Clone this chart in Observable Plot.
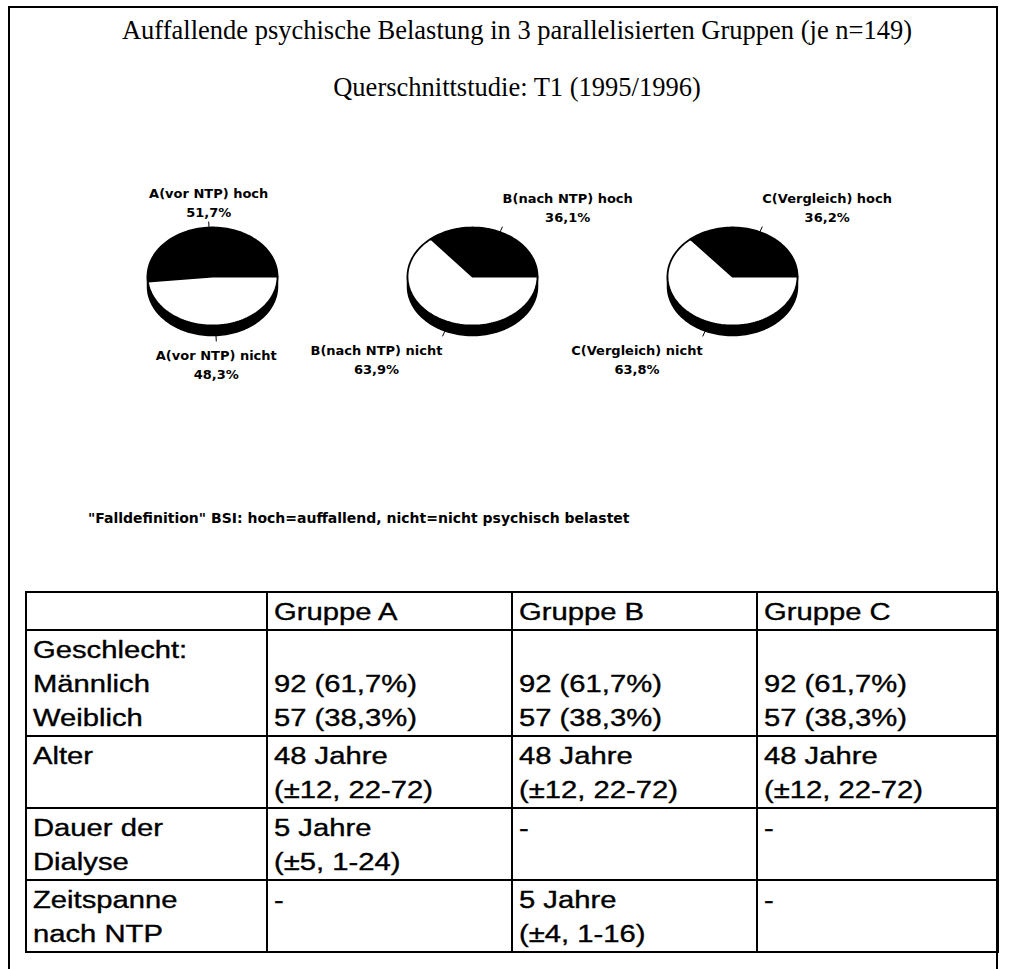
<!DOCTYPE html>
<html>
<head>
<meta charset="utf-8">
<script src="https://cdn.jsdelivr.net/npm/d3@7"></script>
<script src="https://cdn.jsdelivr.net/npm/@observablehq/plot@0.6"></script>
<style>
  html, body { margin: 0; padding: 0; background: #fff; }
  body { width: 1013px; height: 969px; position: relative; overflow: hidden; }
  #frame { position: absolute; left: 8px; top: 6px; width: 986px; height: 1000px;
           border-left: 2px solid #000; border-top: 2px solid #000; border-right: 2px solid #000; }
  .ttl { position: absolute; left: 17px; width: 1000px; text-align: center;
         font-family: "Liberation Serif", "Times New Roman", serif; font-size: 26.5px; line-height: 30px; color: #000; white-space: nowrap; }
  #pies { position: absolute; left: 0; top: 140px; }
  #note { position: absolute; left: 88px; top: 509px; font-family: "DejaVu Sans", sans-serif; font-weight: bold;
          font-size: 14px; line-height: 18px; white-space: nowrap; color: #000; }
  table { position: absolute; left: 25px; top: 591px; border-collapse: collapse; table-layout: fixed; }
  td { border: 2px solid #000; vertical-align: top; padding: 2px 0 0 6px; overflow: visible;
       font-family: "Liberation Sans", Arial, sans-serif; font-size: 23px; color: #000; }
  td .ln { height: 34px; line-height: 34px; white-space: nowrap; }
  td .ln span { display: inline-block; transform: scaleX(1.27); transform-origin: 0 50%;
                -webkit-text-stroke: 0.35px #000; }
</style>
</head>
<body>
<div id="frame"></div>
<div class="ttl" id="title" style="top:15px"></div>
<div class="ttl" id="subtitle" style="top:72px"></div>
<div id="pies"></div>
<div id="note"></div>
<table id="tbl"></table>
<script>
// ---------- data ----------
const titleText = "Auffallende psychische Belastung in 3 parallelisierten Gruppen (je n=149)";
const subtitleText = "Querschnittstudie: T1 (1995/1996)";
const noteText = "\"Falldefinition\" BSI: hoch=auffallend, nicht=nicht psychisch belastet";

const groups = ["A(vor NTP)", "B(nach NTP)", "C(Vergleich)"];
const categories = ["hoch", "nicht"];
const hochPct = [51.7, 36.1, 36.2];
const nichtPct = [48.3, 63.9, 63.8];
const sliceColors = ["black", "white"];

const tableHeader = ["", "Gruppe A", "Gruppe B", "Gruppe C"];
const rowLabels = [["Geschlecht:", "Männlich", "Weiblich"], ["Alter"], ["Dauer der", "Dialyse"], ["Zeitspanne", "nach NTP"]];
const colA = [["", "92 (61,7%)", "57 (38,3%)"], ["48 Jahre", "(±12, 22-72)"], ["5 Jahre", "(±5, 1-24)"], ["-"]];
const colB = [["", "92 (61,7%)", "57 (38,3%)"], ["48 Jahre", "(±12, 22-72)"], ["-"], ["5 Jahre", "(±4, 1-16)"]];
const colC = [["", "92 (61,7%)", "57 (38,3%)"], ["48 Jahre", "(±12, 22-72)"], ["-"], ["-"]];

// ---------- texts ----------
document.getElementById("title").textContent = titleText;
document.getElementById("subtitle").textContent = subtitleText;
document.getElementById("note").textContent = noteText;

// ---------- pies ----------
const RX = 65, RY = 49, DEPTH = 10;          // pixel radii of the tilted pie face and side height
const PIE_GAP = 4;                            // pie centres apart, in radius units
const D = DEPTH / RY;                         // depth in y units
const fmt = v => v.toFixed(1).replace(".", ",") + "%";

function arc(cx, a0, a1, dy) {
  const n = Math.max(2, Math.ceil(Math.abs(a1 - a0) / (2 * Math.PI) * 180));
  return d3.range(n + 1).map(k => {
    const a = a0 + (a1 - a0) * k / n;
    return [cx + Math.cos(a), Math.sin(a) + dy];
  });
}

const sidePts = [], slicePts = [], leaders = [], topLabels = [], botLabels = [];
const ctx = document.createElement("canvas").getContext("2d");
ctx.font = "bold 13px 'DejaVu Sans'";

groups.forEach((g, i) => {
  const cx = i * PIE_GAP;
  // side wall (lower half of the rim)
  const s = arc(cx, Math.PI, 2 * Math.PI, 0).concat(arc(cx, 2 * Math.PI, Math.PI, -D));
  s.push(s[0]);
  s.forEach(([x, y]) => sidePts.push({id: "side" + i, x, y}));
  // slices (counter-clockwise from 3 o'clock)
  const vals = [hochPct[i], nichtPct[i]];
  let a0 = 0;
  vals.forEach((v, j) => {
    const a1 = a0 + v / 100 * 2 * Math.PI;
    const pts = [[cx, 0], ...arc(cx, a0, a1, 0), [cx, 0]];
    pts.forEach(([x, y]) => slicePts.push({id: `s${i}${j}`, x, y, color: sliceColors[j]}));
    // leader + label
    const m = (a0 + a1) / 2, c = Math.cos(m), sn = Math.sin(m);
    const x1 = cx + c, y1 = sn - (sn < 0 ? D : 0);
    const x2 = x1 + 6 / RX * c, y2 = y1 + 6 / RY * sn;
    leaders.push({x1, y1, x2, y2});
    const lines = [`${g} ${categories[j]}`, fmt(v)];
    const w = d3.max(lines, t => ctx.measureText(t).width) / RX;
    let lx = x2;
    if (Math.abs(c) >= 0.3) lx = c > 0 ? x2 + w / 2 : x2 - w / 2;
    const lab = {x: lx, y: sn > 0 ? y2 + 5 / RY : y2 - 5 / RY, text: lines.join("\n")};
    (sn > 0 ? topLabels : botLabels).push(lab);
    a0 = a1;
  });
});

const textOpts = {x: "x", y: "y", text: "text", fontSize: 13, fontWeight: "bold",
  fontFamily: "DejaVu Sans", lineHeight: 1.45, fill: "black", textAnchor: "middle"};

const cy = 276 - 140;
const chart = Plot.plot({
  width: 1013, height: 270, margin: 0,
  x: {type: "linear", domain: [0, 2 * PIE_GAP], range: [212, 212 + 2 * PIE_GAP * RX], axis: null},
  y: {type: "linear", domain: [-1, 1], range: [cy + RY, cy - RY], axis: null},
  color: {type: "identity"},
  style: {background: "transparent", overflow: "visible"},
  marks: [
    Plot.line(sidePts, {x: "x", y: "y", z: "id", fill: "black", stroke: "black", strokeWidth: 1.5}),
    Plot.line(slicePts, {x: "x", y: "y", z: "id", fill: "color", stroke: "black", strokeWidth: 1.8, strokeLinejoin: "round"}),
    Plot.link(leaders, {x1: "x1", y1: "y1", x2: "x2", y2: "y2", stroke: "black", strokeWidth: 1}),
    Plot.text(topLabels, {...textOpts, lineAnchor: "bottom"}),
    Plot.text(botLabels, {...textOpts, lineAnchor: "top"})
  ]
});
document.getElementById("pies").appendChild(chart);

// ---------- table ----------
const colWidths = [241, 245, 245, 241];
const rowHeights = [35, 103, 72, 72, 71];
const tbl = document.getElementById("tbl");
const cg = document.createElement("colgroup");
colWidths.forEach(w => { const c = document.createElement("col"); c.style.width = w + "px"; cg.appendChild(c); });
tbl.appendChild(cg);
const rows = [tableHeader.map(t => [t])].concat(rowLabels.map((r, k) => [r, colA[k], colB[k], colC[k]]));
rows.forEach((cells, r) => {
  const tr = document.createElement("tr");
  tr.style.height = rowHeights[r] + "px";
  cells.forEach(lines => {
    const td = document.createElement("td");
    td.style.height = (rowHeights[r] - 4) + "px";
    lines.forEach(t => {
      const d = document.createElement("div");
      d.className = "ln";
      const sp = document.createElement("span");
      sp.textContent = t;
      d.appendChild(sp);
      td.appendChild(d);
    });
    tr.appendChild(td);
  });
  tbl.appendChild(tr);
});
</script>
</body>
</html>
